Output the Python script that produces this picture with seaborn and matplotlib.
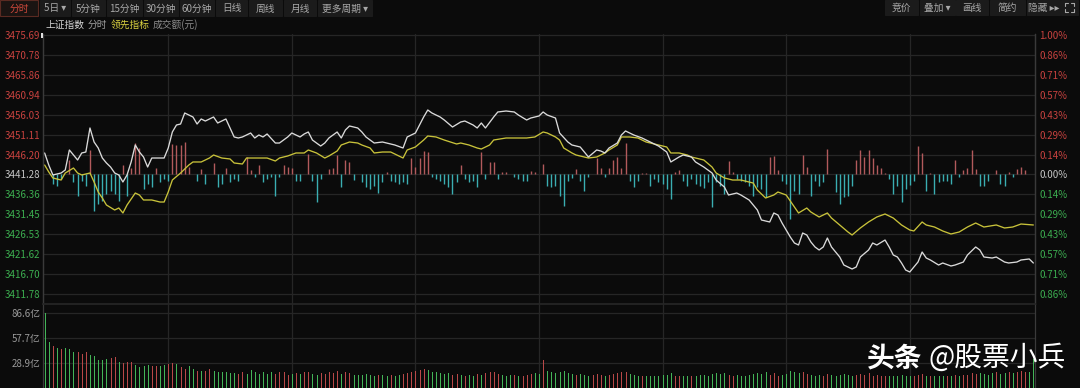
import numpy as np
import pandas as pd
import matplotlib
matplotlib.use("Agg")
import matplotlib.pyplot as plt
import seaborn as sns
from matplotlib.patches import Rectangle
from matplotlib.lines import Line2D

# ---------------- data ----------------
base_close = 3441.28
price_ticks = [3475.69, 3470.78, 3465.86, 3460.94, 3456.03, 3451.11, 3446.20,
               3441.28, 3436.36, 3431.45, 3426.53, 3421.62, 3416.70, 3411.78]
pct_labels = ["1.00%", "0.86%", "0.71%", "0.57%", "0.43%", "0.29%", "0.14%",
              "0.00%", "0.14%", "0.29%", "0.43%", "0.57%", "0.71%", "0.86%"]
vol_ticks = [86.6, 57.7, 28.9]
vol_labels = ["86.6亿", "57.7亿", "28.9亿"]
session_marks = [30, 60, 90, 120, 150, 180, 210]

toolbar_left = ["分时", "5日 ▾", "5分钟", "15分钟", "30分钟", "60分钟", "日线", "周线", "月线", "更多周期 ▾"]
toolbar_right = ["竞价", "叠加 ▾", "画线", "简约", "隐藏 ▸▸"]
legend_items = ["上证指数", "分时", "领先指标", "成交额(元)"]
watermark_bold = "头条"
watermark_rest = "@股票小兵"

# 上证指数 (white line): (minute, price)
index_points = [
    (0, 3446.59), (1, 3443.62), (2, 3441.16), (4, 3441.65), (5, 3442.39), (6, 3447.33), (7, 3446.09),
    (8, 3444.86), (9, 3446.59), (10, 3446.83), (11, 3452.76), (12, 3449.30), (13, 3447.82), (14, 3445.35),
    (15, 3444.12), (16, 3443.13), (17, 3441.65), (18, 3441.16), (19, 3439.43), (20, 3441.16), (21, 3444.37),
    (22, 3448.56), (23, 3446.83), (24, 3445.60), (25, 3443.13), (26, 3445.35), (29, 3445.35), (30, 3447.82),
    (31, 3451.77), (32, 3453.50), (33, 3453.74), (34, 3456.46), (36, 3455.47), (37, 3453.74), (38, 3454.98),
    (39, 3454.48), (41, 3455.47), (42, 3453.99), (44, 3454.98), (45, 3452.76), (46, 3450.54), (47, 3450.29),
    (48, 3450.54), (50, 3451.52), (51, 3450.29), (52, 3451.03), (53, 3450.54), (54, 3451.28), (56, 3449.05),
    (57, 3449.05), (59, 3450.54), (60, 3451.52), (62, 3450.54), (63, 3451.28), (64, 3451.77), (65, 3449.79),
    (67, 3448.31), (68, 3449.05), (69, 3450.29), (71, 3451.77), (72, 3450.29), (73, 3452.26), (74, 3453.25),
    (76, 3452.76), (77, 3451.77), (78, 3450.54), (80, 3449.05), (82, 3449.30), (83, 3449.05), (85, 3448.56),
    (87, 3447.82), (88, 3450.54), (90, 3451.52), (91, 3453.50), (92, 3455.47), (93, 3457.20), (94, 3456.46),
    (96, 3455.47), (97, 3454.73), (99, 3453.00), (101, 3454.24), (102, 3454.48), (104, 3453.50), (105, 3452.76),
    (106, 3453.99), (107, 3452.76), (109, 3455.47), (110, 3456.71), (112, 3456.95), (114, 3456.71), (115, 3455.96),
    (117, 3454.73), (118, 3455.22), (120, 3455.72), (121, 3456.71), (122, 3455.96), (124, 3455.22), (125, 3451.52),
    (127, 3449.30), (128, 3448.56), (130, 3448.07), (131, 3446.83), (132, 3445.60), (134, 3447.33), (135, 3447.08),
    (136, 3446.59), (137, 3447.82), (139, 3449.05), (140, 3451.03), (141, 3452.02), (143, 3451.03), (145, 3450.29),
    (147, 3449.30), (149, 3448.31), (151, 3446.83), (152, 3444.37), (154, 3445.60), (155, 3446.09), (157, 3445.60),
    (158, 3444.37), (160, 3443.13), (162, 3441.65), (163, 3439.92), (165, 3438.19), (166, 3436.22), (168, 3436.71),
    (169, 3436.22), (171, 3434.99), (173, 3432.52), (174, 3430.05), (176, 3429.56), (177, 3431.78), (178, 3431.28),
    (179, 3429.31), (181, 3425.85), (182, 3424.37), (183, 3423.88), (184, 3426.84), (185, 3426.35), (186, 3424.62),
    (187, 3423.39), (188, 3422.65), (189, 3423.39), (190, 3425.61), (191, 3423.39), (193, 3420.92), (194, 3418.94),
    (196, 3417.96), (197, 3418.45), (198, 3420.92), (200, 3422.65), (201, 3424.37), (202, 3423.88), (204, 3425.11),
    (205, 3423.39), (206, 3421.41), (207, 3420.92), (208, 3419.44), (209, 3417.71), (210, 3417.22), (212, 3419.68),
    (213, 3422.15), (214, 3420.67), (215, 3420.18), (217, 3418.94), (218, 3419.44), (220, 3418.70), (221, 3418.94),
    (223, 3419.68), (224, 3421.41), (226, 3423.39), (227, 3422.65), (228, 3420.92), (230, 3420.67), (231, 3420.92),
    (233, 3419.68), (234, 3419.44), (236, 3419.68), (237, 3420.18), (239, 3420.43), (240, 3419.44),
]

# 领先指标 (yellow line): (minute, price)
lead_points = [
    (0, 3443.62), (1, 3441.90), (2, 3440.42), (4, 3439.92), (5, 3441.65), (7, 3442.88), (8, 3441.65),
    (9, 3441.16), (11, 3441.65), (12, 3439.43), (13, 3436.96), (14, 3435.48), (15, 3433.75), (17, 3432.52),
    (18, 3433.01), (19, 3431.78), (20, 3433.75), (22, 3436.71), (23, 3436.22), (24, 3434.99), (26, 3434.99),
    (28, 3434.49), (29, 3434.49), (30, 3436.96), (31, 3439.92), (33, 3441.65), (35, 3443.62), (36, 3444.37),
    (38, 3444.37), (40, 3445.35), (41, 3446.09), (43, 3445.35), (45, 3445.11), (46, 3444.12), (48, 3443.87),
    (49, 3445.35), (52, 3445.35), (54, 3445.35), (56, 3444.61), (57, 3445.35), (59, 3445.85), (61, 3446.59),
    (63, 3446.59), (64, 3447.33), (66, 3446.59), (68, 3445.35), (69, 3445.85), (71, 3447.08), (72, 3448.56),
    (74, 3449.30), (76, 3449.05), (77, 3448.56), (79, 3447.82), (80, 3446.59), (82, 3446.83), (84, 3446.83),
    (85, 3446.34), (87, 3445.35), (88, 3447.33), (90, 3448.07), (92, 3449.79), (93, 3450.78), (95, 3450.54),
    (97, 3449.79), (100, 3448.81), (101, 3449.05), (103, 3448.56), (105, 3447.82), (106, 3447.57), (108, 3448.56),
    (109, 3449.79), (112, 3450.29), (114, 3450.29), (117, 3450.29), (119, 3450.54), (121, 3451.77), (122, 3451.52),
    (124, 3450.54), (125, 3449.79), (126, 3447.82), (128, 3446.59), (129, 3446.09), (131, 3445.60), (132, 3445.35),
    (134, 3445.60), (136, 3446.59), (137, 3447.33), (139, 3448.56), (140, 3450.54), (142, 3450.54), (144, 3450.29),
    (146, 3449.30), (149, 3448.56), (151, 3448.07), (152, 3446.59), (154, 3446.59), (156, 3446.09), (157, 3445.60),
    (160, 3444.86), (162, 3443.13), (163, 3441.65), (165, 3440.42), (167, 3439.92), (169, 3439.92), (172, 3439.18),
    (173, 3437.45), (175, 3435.48), (177, 3436.22), (178, 3436.96), (180, 3436.22), (182, 3433.26), (183, 3431.78),
    (185, 3433.01), (186, 3432.02), (188, 3430.79), (190, 3431.78), (191, 3430.54), (193, 3428.82), (195, 3427.09),
    (196, 3426.35), (198, 3428.08), (200, 3429.56), (202, 3430.79), (204, 3431.53), (206, 3430.54), (208, 3428.82),
    (210, 3427.58), (211, 3427.34), (213, 3429.56), (214, 3428.82), (216, 3428.32), (218, 3427.34), (220, 3426.60),
    (222, 3427.09), (224, 3428.32), (226, 3429.31), (228, 3428.32), (231, 3428.82), (233, 3428.08), (235, 3428.32),
    (237, 3429.06), (240, 3428.82),
]

# red/cyan breadth bars around the zero line: (minute, value)
breadth_points = [
    (2, -10), (3, -12), (4, -5), (6, 15), (7, -8), (8, -22), (9, -7), (10, -12), (11, 25), (12, -37),
    (13, -30), (14, -27), (15, -20), (16, -17), (17, -20), (18, -27), (19, 10), (20, -22), (21, 7), (22, 32),
    (23, 27), (24, -15), (25, -10), (26, -13), (27, 7), (28, -8), (29, -5), (30, -7), (31, 31), (32, 30),
    (33, 30), (34, 33), (35, 8), (37, -7), (38, 6), (39, -10), (41, 12), (42, -13), (43, -10), (44, 7),
    (45, -8), (46, -5), (47, -7), (49, 18), (50, 5), (51, -3), (52, 10), (53, -8), (54, -5), (55, -3),
    (56, -22), (57, -3), (58, 10), (59, 8), (60, 7), (61, -7), (62, -7), (64, 21), (65, -7), (66, -28),
    (67, -5), (69, 6), (70, 7), (71, 20), (72, -13), (73, 15), (74, 13), (75, -6), (77, -8), (78, -13),
    (79, -15), (80, -12), (81, -19), (82, -8), (83, 3), (84, -7), (85, -8), (86, -10), (87, -8), (88, -10),
    (89, 17), (90, 8), (91, 17), (92, 24), (93, 23), (94, -3), (95, -5), (96, -7), (97, -10), (98, -13),
    (99, -20), (100, -8), (101, 10), (102, -5), (103, -8), (104, -7), (105, -13), (106, 23), (107, -5), (108, 13),
    (109, 13), (110, -5), (111, 3), (112, 3), (114, -3), (115, -5), (116, -7), (117, -7), (118, 4), (119, 3),
    (121, 11), (122, -12), (123, -13), (124, -12), (125, -22), (126, -32), (127, -7), (128, -4), (129, 6), (130, -7),
    (131, -17), (132, -3), (134, 17), (135, 7), (136, -3), (137, 7), (138, 15), (139, 18), (140, 7), (141, 32),
    (142, -7), (143, -13), (144, -7), (145, 2), (146, 2), (147, -12), (148, -5), (149, -8), (150, -10), (151, -15),
    (152, -25), (153, 3), (154, 5), (155, -7), (156, -12), (157, -5), (158, -10), (159, -12), (160, -14), (161, -8),
    (162, -33), (163, -8), (164, -12), (165, -20), (166, 14), (167, 3), (168, -5), (169, -7), (170, -8), (171, -12),
    (172, -22), (173, -13), (174, -15), (175, -23), (176, 18), (177, 19), (178, 5), (179, -7), (180, -10), (181, -45),
    (182, -17), (183, -20), (184, 20), (185, 8), (186, -22), (187, -7), (188, -12), (189, -8), (190, 26), (192, -18),
    (193, -30), (194, -23), (195, -22), (196, -12), (197, 15), (198, 25), (199, 18), (200, 25), (201, 17), (202, 10),
    (203, 7), (204, 2), (205, -5), (206, -20), (207, -12), (208, -28), (209, -15), (210, -11), (211, -7), (212, 29),
    (213, 22), (214, -17), (215, 2), (216, -20), (217, -8), (218, -7), (219, -7), (220, -10), (221, 15), (222, -3),
    (223, 5), (224, 7), (225, 25), (226, 6), (227, -12), (228, -12), (229, -7), (231, 5), (232, -10), (233, -12),
    (234, 3), (235, -3), (236, 6), (237, 8), (238, 5),
]

# 成交额 per minute (亿元), minutes 0..240
volume = [
    86.6, 52.8, 48.9, 45.9, 45.1, 45.9, 45.1, 41.2, 42.0, 39.3,
    42.0, 38.1, 36.6, 32.8, 32.8, 33.5, 34.3, 35.5, 29.7, 28.9,
    30.4, 29.7, 26.6, 23.9, 25.8, 26.6, 25.8, 25.8, 25.8, 26.6,
    27.7, 28.9, 27.7, 23.9, 22.0, 25.0, 22.0, 20.0, 20.0, 20.0,
    22.0, 20.0, 18.1, 18.9, 18.1, 17.3, 17.3, 16.2, 18.9, 16.2,
    21.2, 18.9, 16.2, 18.1, 16.2, 18.9, 16.2, 18.9, 18.1, 15.0,
    16.2, 17.3, 16.2, 18.1, 19.0, 16.2, 15.5, 17.3, 16.2, 18.9,
    17.3, 19.5, 16.2, 18.1, 17.3, 15.5, 14.8, 15.5, 16.2, 15.0,
    14.4, 15.5, 14.8, 14.0, 15.5, 14.4, 15.0, 16.2, 17.3, 18.1,
    19.6, 21.2, 22.0, 20.4, 19.0, 18.1, 17.3, 16.2, 17.3, 15.5,
    16.2, 15.0, 14.4, 15.5, 14.4, 16.2, 15.0, 17.3, 18.1, 18.9,
    16.2, 15.5, 14.4, 15.0, 14.8, 14.0, 14.4, 15.0, 16.2, 17.3,
    16.2, 32.0, 19.6, 18.1, 17.3, 18.9, 19.6, 17.3, 16.2, 15.5,
    16.2, 15.0, 14.4, 15.5, 16.2, 14.8, 14.4, 15.5, 16.2, 17.3,
    18.1, 19.0, 16.2, 15.5, 14.4, 14.0, 13.7, 14.4, 13.7, 14.4,
    15.0, 15.5, 17.3, 14.4, 14.0, 13.7, 14.4, 13.7, 14.4, 15.0,
    15.5, 14.4, 16.2, 17.3, 16.2, 17.3, 15.5, 14.4, 15.0, 14.0,
    14.4, 15.5, 16.2, 17.3, 16.2, 18.1, 15.5, 17.3, 14.4, 15.0,
    16.2, 19.6, 18.9, 17.3, 18.1, 16.2, 15.5, 14.4, 15.0, 14.4,
    16.2, 15.0, 14.4, 15.5, 16.2, 15.5, 14.4, 15.0, 16.2, 15.5,
    17.3, 14.4, 15.0, 13.7, 14.4, 13.7, 14.4, 13.7, 15.0, 14.4,
    13.7, 14.4, 15.5, 16.2, 14.0, 13.7, 14.4, 13.7, 14.4, 13.7,
    14.4, 15.0, 14.4, 15.0, 15.5, 17.3, 16.2, 17.3, 16.2, 15.5,
    17.3, 18.1, 16.2, 17.3, 18.1, 17.3, 18.9, 19.6, 18.1, 19.0,
    33.5,
]
# r = up minute (red), g = down minute (green)
volume_dir = ("ggrgrgggrr" "rgggggrrgr" "rrggggrrgg" "rrgrrggrgr" "rggggggrrg"
              "ggggggrrrr" "grgrrggrrr" "rrgrrggggg" "grggrggrrr" "rrrggggggr"
              "rgrggrgrrr" "rgggrgrrrg" "grgggggggr" "gggrrrgrrr" "rrgggrgggg"
              "gggrrggrgg" "ggggggrrgg" "ggggggrrrg" "ggggrrgggr" "rggggggrrr"
              "rrrrrggggg" "grrrgrgggr" "grgrrrrggg" "grggrgrrrg" "g")

# ---------------- style ----------------
sns.set_theme(style="dark")
plt.rcParams["font.family"] = ["Noto Sans CJK SC", "DejaVu Sans"]
plt.rcParams["axes.unicode_minus"] = False

BG = "#0b0b0b"
GRID = "#262626"
EDGE = "#3a3a3a"
RED_T = "#c8423f"
GREEN_T = "#3cae50"
NEU_T = "#c6c6c6"
WHITE_L = "#dadada"
YELLOW_L = "#c8c23a"
BAR_RED = "#b25a5c"
BAR_CYAN = "#3aaeb2"
VOL_RED = "#b94848"
VOL_GREEN = "#43b457"

W, H = 1080, 388
fig = plt.figure(figsize=(W / 100, H / 100), dpi=100, facecolor=BG)


def fx(px):
    return px / W


def fy(py):
    return 1 - py / H


X0, X1 = 43, 1035
P_TOP, P_BOT = 34, 304
ZERO_PX = 174.5
STEP_PX = 19.92
step = (price_ticks[0] - price_ticks[-1]) / (len(price_ticks) - 1)

# ---------------- price panel ----------------
ax = fig.add_axes([fx(X0), fy(P_BOT), fx(X1) - fx(X0), (P_BOT - P_TOP) / H], facecolor=BG)
ylo = base_close - (P_BOT - ZERO_PX) / STEP_PX * step
yhi = base_close + (ZERO_PX - P_TOP) / STEP_PX * step
ax.set_ylim(ylo, yhi)
ax.set_xlim(-0.4, 240.4)

for m in session_marks:
    ax.axvline(m, color=GRID, lw=0.9, zorder=0)
ax.set_yticks(price_ticks)
ax.yaxis.grid(True, color=GRID, lw=0.9)
ax.xaxis.grid(False)
ax.set_xticks([])

bm = np.array([p[0] for p in breadth_points])
bv = np.array([p[1] for p in breadth_points], dtype=float)
bscale = step / 20.0
ax.vlines(bm, base_close, base_close + bv * bscale,
          colors=[BAR_RED if v > 0 else BAR_CYAN for v in bv], lw=1.0, zorder=2)

df_idx = pd.DataFrame(index_points, columns=["minute", "price"])
df_lead = pd.DataFrame(lead_points, columns=["minute", "price"])
sns.lineplot(data=df_lead, x="minute", y="price", ax=ax, color=YELLOW_L, lw=0.95,
             estimator=None, sort=False, zorder=3)
sns.lineplot(data=df_idx, x="minute", y="price", ax=ax, color=WHITE_L, lw=0.95,
             estimator=None, sort=False, zorder=4)
ax.set_xlabel("")
ax.set_ylabel("")

def tick_color(t):
    if abs(t - base_close) < 0.01:
        return NEU_T
    return RED_T if t > base_close else GREEN_T

ax.set_yticklabels([f"{t:.2f}" for t in price_ticks])
ax.tick_params(axis="y", length=0, pad=2, labelsize=7)
for lbl, t in zip(ax.get_yticklabels(), price_ticks):
    lbl.set_color(tick_color(t))

ax2 = ax.twinx()
ax2.set_ylim(ylo, yhi)
ax2.set_yticks(price_ticks)
ax2.set_yticklabels(pct_labels)
ax2.tick_params(axis="y", length=0, pad=3, labelsize=7)
for lbl, t in zip(ax2.get_yticklabels(), price_ticks):
    lbl.set_color(tick_color(t))
ax2.grid(False)

for a in (ax, ax2):
    for s in ("top", "bottom"):
        a.spines[s].set_visible(False)
    for s in ("left", "right"):
        a.spines[s].set_color(EDGE)
        a.spines[s].set_linewidth(0.9)

# ---------------- volume panel ----------------
vax = fig.add_axes([fx(X0), 0, fx(X1) - fx(X0), (H - P_BOT) / H], facecolor=BG)
vax.set_xlim(-0.4, 240.4)
vax.set_ylim(0, 97)
for m in session_marks:
    vax.axvline(m, color=GRID, lw=0.9, zorder=0)
vax.set_yticks(vol_ticks)
vax.set_yticklabels(vol_labels)
vax.yaxis.grid(True, color=GRID, lw=0.9)
vax.xaxis.grid(False)
vax.set_xticks([])
vax.tick_params(axis="y", length=0, pad=2, labelsize=7, colors="#9a9a9a")
vm = np.arange(len(volume))
vax.vlines(vm, 0, volume, colors=[VOL_RED if c == "r" else VOL_GREEN for c in volume_dir],
           lw=0.72, antialiased=False, zorder=2)
vax.spines["bottom"].set_visible(False)
vax.spines["top"].set_color(GRID)
for s in ("left", "right"):
    vax.spines[s].set_color(EDGE)
    vax.spines[s].set_linewidth(0.9)

# ---------------- toolbar ----------------
def button(x0, x1, y0, y1, text, fc="#1b1b1b", tc="#a8a8a8", ec=None):
    fig.add_artist(Rectangle((fx(x0), fy(y1)), fx(x1) - fx(x0), (y1 - y0) / H,
                             transform=fig.transFigure, facecolor=fc,
                             edgecolor=ec if ec else fc, lw=0.8))
    if text:
        fig.text(fx((x0 + x1) / 2), fy((y0 + y1) / 2 + 0.5), text, ha="center", va="center",
                 color=tc, fontsize=7)

left_spans = [(0, 38), (40, 70), (72, 105), (107, 142), (144, 178), (180, 214),
              (216, 247), (249, 282), (284, 316), (318, 372)]
for i, (txt, (a0, a1)) in enumerate(zip(toolbar_left, left_spans)):
    if i == 0:
        button(a0, a1, 0, 16, txt, fc="#1a1412", tc="#d0493c", ec="#5a2a22")
    else:
        button(a0, a1, 0, 16, txt)

right_spans = [(885, 918), (920, 955), (956, 988), (990, 1025), (1027, 1060)]
for txt, (a0, a1) in zip(toolbar_right, right_spans):
    button(a0, a1, 0, 15, txt)

# full-screen icon (drawn as four corner brackets)
button(1061, 1078, 0, 15, "")
ic_x0, ic_x1, ic_y0, ic_y1, arm = 1065, 1074, 3, 12, 3
for cx, cy, dx, dy in [(ic_x0, ic_y0, 1, 1), (ic_x1, ic_y0, -1, 1),
                       (ic_x0, ic_y1, 1, -1), (ic_x1, ic_y1, -1, -1)]:
    fig.add_artist(Line2D([fx(cx), fx(cx + dx * arm)], [fy(cy), fy(cy)],
                          transform=fig.transFigure, color="#a8a8a8", lw=0.8))
    fig.add_artist(Line2D([fx(cx), fx(cx)], [fy(cy), fy(cy + dy * arm)],
                          transform=fig.transFigure, color="#a8a8a8", lw=0.8))

# legend row
leg_x = [45, 88, 111, 153]
leg_c = ["#d6d6d6", "#a0a0a0", "#d8d040", "#8c8c8c"]
for txt, x, c in zip(legend_items, leg_x, leg_c):
    fig.text(fx(x), fy(25), txt, ha="left", va="center", color=c, fontsize=7)

# small cursor marker next to top price label
fig.add_artist(Rectangle((fx(41), fy(38)), fx(2), 5 / H, transform=fig.transFigure,
                         facecolor="#e0e0e0", edgecolor="none"))

# watermark
fig.text(fx(867), fy(358), watermark_bold, ha="left", va="center", color="white",
         fontsize=20, fontweight="bold")
fig.text(fx(928), fy(358), watermark_rest, ha="left", va="center", color="white",
         fontsize=20)

fig.savefig("out.png", dpi=100, facecolor=BG)
